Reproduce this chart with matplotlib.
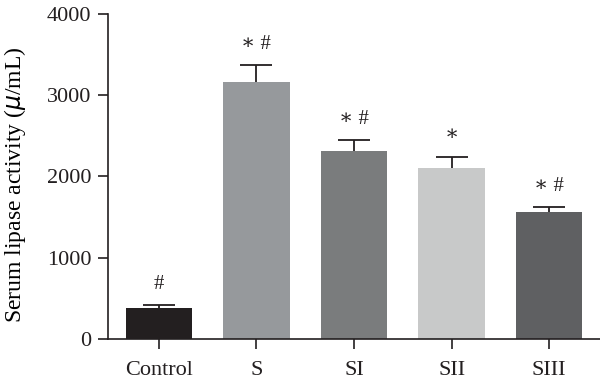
import matplotlib
matplotlib.use("Agg")
import matplotlib.pyplot as plt

# data
groups = ["Control", "S", "SI", "SII", "SIII"]
means = [380, 3160, 2310, 2110, 1560]
errors = [40, 210, 135, 135, 65]
marks = ["#", "\u2217 #", "\u2217 #", "\u2217", "\u2217 #"]
colors = ["#231f20", "#96999c", "#7a7c7d", "#c8c9c9", "#5f6062"]

plt.rcParams['font.family'] = ['Liberation Serif', 'DejaVu Serif']

fig = plt.figure(figsize=(6, 3.84), dpi=100)
ax = fig.add_axes([0.18, 0.117, 0.82, 0.847])

x = list(range(len(groups)))
ax.bar(x, means, width=0.68, color=colors, zorder=2)

# upper error bars only: stem + cap
tops = [m + e for m, e in zip(means, errors)]
ax.vlines(x, means, tops, color='#231f20', linewidth=1.3, zorder=3)
ax.hlines(tops, [xi - 0.165 for xi in x], [xi + 0.165 for xi in x],
          color='#231f20', linewidth=1.3, zorder=3)

for xi, t, lab in zip(x, tops, marks):
    ax.annotate(lab, xy=(xi, t), xytext=(0, 8), textcoords='offset points',
                ha='center', va='bottom', fontsize=15, color='#231f20')

ax.set_xlim(-0.52, 4.52)
ax.set_ylim(0, 4000)
ax.set_yticks([0, 1000, 2000, 3000, 4000])
ax.set_xticks(x)
ax.set_xticklabels(groups)
ax.set_ylabel(r"Serum lipase activity ($\mu$/mL)", fontsize=17)
ax.yaxis.set_label_coords(-0.162, 0.475)

for s in ['top', 'right']:
    ax.spines[s].set_visible(False)
for s in ['left', 'bottom']:
    ax.spines[s].set_linewidth(1.2)
    ax.spines[s].set_color('#231f20')
ax.tick_params(axis='both', direction='out', length=7, width=1.2,
               labelsize=16, colors='#231f20', pad=5)
ax.tick_params(axis='x', pad=9)

fig.savefig("out.png", dpi=100, facecolor='white')
